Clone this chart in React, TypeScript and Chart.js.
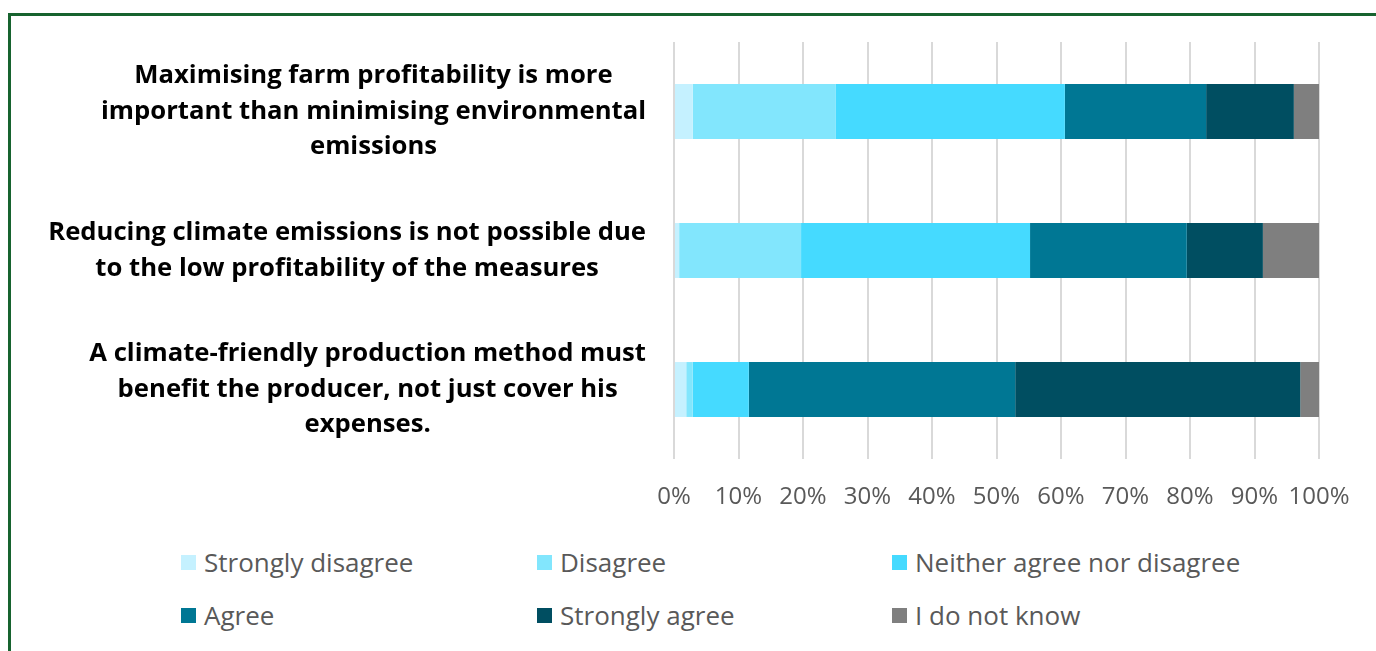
import React, { useEffect, useRef } from "react";
import { Chart, registerables } from "chart.js";

Chart.register(...registerables);

// ---------- data ----------
const categories: string[][] = [
  ["Maximising farm profitability is more", "important than minimising environmental", "emissions"],
  ["Reducing climate emissions is not possible due", "to the low profitability of the measures"],
  ["A climate-friendly production method must", "benefit the producer, not just cover his", "expenses."],
];

const seriesNames: string[] = [
  "Strongly disagree",
  "Disagree",
  "Neither agree nor disagree",
  "Agree",
  "Strongly agree",
  "I do not know",
];

const stronglyDisagree: number[] = [2.9, 0.8, 1.9];
const disagree: number[] = [22.2, 18.9, 1.0];
const neither: number[] = [35.5, 35.5, 8.7];
const agree: number[] = [21.9, 24.3, 41.3];
const stronglyAgree: number[] = [13.6, 11.8, 44.2];
const doNotKnow: number[] = [3.9, 8.7, 2.9];

const seriesValues: number[][] = [stronglyDisagree, disagree, neither, agree, stronglyAgree, doNotKnow];

const seriesColors: string[] = ["#C5F1FF", "#82E6FD", "#45DAFF", "#007794", "#004E61", "#7F7F7F"];

const xTickLabels: string[] = ["0%", "10%", "20%", "30%", "40%", "50%", "60%", "70%", "80%", "90%", "100%"];

// ---------- layout constants ----------
const CANVAS_W = 1376;
const CANVAS_H = 530;
const LABEL_RIGHT = 646;
const LABEL_MAX_WIDTH = 598;
const LABEL_LINE_GAP = 35.5;
const FONT = "'Open Sans', 'Noto Sans', 'DejaVu Sans', sans-serif";

const categoryLabelPlugin = {
  id: "categoryLabels",
  afterDraw(chart: any) {
    const ctx = chart.ctx as CanvasRenderingContext2D;
    const yScale = chart.scales.y;
    ctx.save();
    // fit font so the widest line matches the reference width
    ctx.font = `bold 100px ${FONT}`;
    let widest = 0;
    categories.forEach((lines) => lines.forEach((l) => (widest = Math.max(widest, ctx.measureText(l).width))));
    const size = Math.min(30, (100 * LABEL_MAX_WIDTH) / widest);
    ctx.font = `bold ${size}px ${FONT}`;
    ctx.fillStyle = "#000000";
    ctx.textAlign = "center";
    ctx.textBaseline = "middle";
    categories.forEach((lines, i) => {
      const blockW = Math.max(...lines.map((l) => ctx.measureText(l).width));
      const cx = LABEL_RIGHT - blockW / 2;
      const cy = yScale.getPixelForValue(i);
      lines.forEach((line, j) => {
        const y = cy + (j - (lines.length - 1) / 2) * LABEL_LINE_GAP;
        ctx.fillText(line, cx, y);
      });
    });
    ctx.restore();
  },
};

export default function App() {
  const canvasRef = useRef<HTMLCanvasElement | null>(null);

  useEffect(() => {
    document.body.style.overflow = "hidden";
    const canvas = canvasRef.current;
    if (!canvas) return;
    const chart = new Chart(canvas, {
      type: "bar",
      data: {
        labels: categories.map((c) => c.join(" ")),
        datasets: seriesNames.map((name, i) => ({
          label: name,
          data: seriesValues[i],
          backgroundColor: seriesColors[i],
          borderWidth: 0,
          categoryPercentage: 1,
          barPercentage: 0.395,
        })),
      },
      options: {
        indexAxis: "y",
        responsive: false,
        animation: false,
        devicePixelRatio: 1,
        layout: { padding: { top: 42, right: CANVAS_W - 1319, left: 0, bottom: 0 } },
        plugins: {
          legend: { display: false },
          tooltip: { enabled: false },
        },
        scales: {
          x: {
            stacked: true,
            min: 0,
            max: 100,
            afterFit: (s: any) => {
              s.height = 71;
            },
            ticks: {
              stepSize: 10,
              padding: 24,
              maxRotation: 0,
              minRotation: 0,
              autoSkip: false,
              color: "#595959",
              font: { family: FONT, size: 24 },
              callback: (_v: any, idx: number) => xTickLabels[idx],
            },
            grid: { color: "#D9D9D9", lineWidth: 2, drawTicks: false },
            border: { display: false },
          },
          y: {
            stacked: true,
            afterFit: (s: any) => {
              s.width = 674;
            },
            ticks: { display: false },
            grid: { display: false, drawTicks: false },
            border: { display: false },
          },
        },
      },
      plugins: [categoryLabelPlugin],
    });
    return () => chart.destroy();
  }, []);

  const legendCols = [181, 537, 892];
  const legendRows = [562, 615];

  return (
    <div style={{ position: "fixed", left: 0, top: 0, width: CANVAS_W, height: 651, background: "#fff" }}>
      <div
        style={{
          position: "fixed",
          left: 8,
          top: 13,
          width: 1500,
          height: 800,
          borderTop: "3px solid #17632F",
          borderLeft: "3px solid #17632F",
          boxSizing: "border-box",
        }}
      />
      <canvas
        ref={canvasRef}
        width={CANVAS_W}
        height={CANVAS_H}
        style={{ position: "absolute", left: 0, top: 0, width: CANVAS_W, height: CANVAS_H }}
      />
      {seriesNames.map((name, i) => {
        const col = i % 3;
        const row = Math.floor(i / 3);
        return (
          <div
            key={name}
            style={{
              position: "absolute",
              left: legendCols[col],
              top: legendRows[row] - 20,
              height: 40,
              display: "flex",
              alignItems: "center",
              whiteSpace: "nowrap",
              fontFamily: FONT,
              fontSize: 26,
              color: "#595959",
            }}
          >
            <span
              style={{
                display: "inline-block",
                width: 15,
                height: 15,
                background: seriesColors[i],
                marginRight: 8,
              }}
            />
            <span>{name}</span>
          </div>
        );
      })}
    </div>
  );
}
